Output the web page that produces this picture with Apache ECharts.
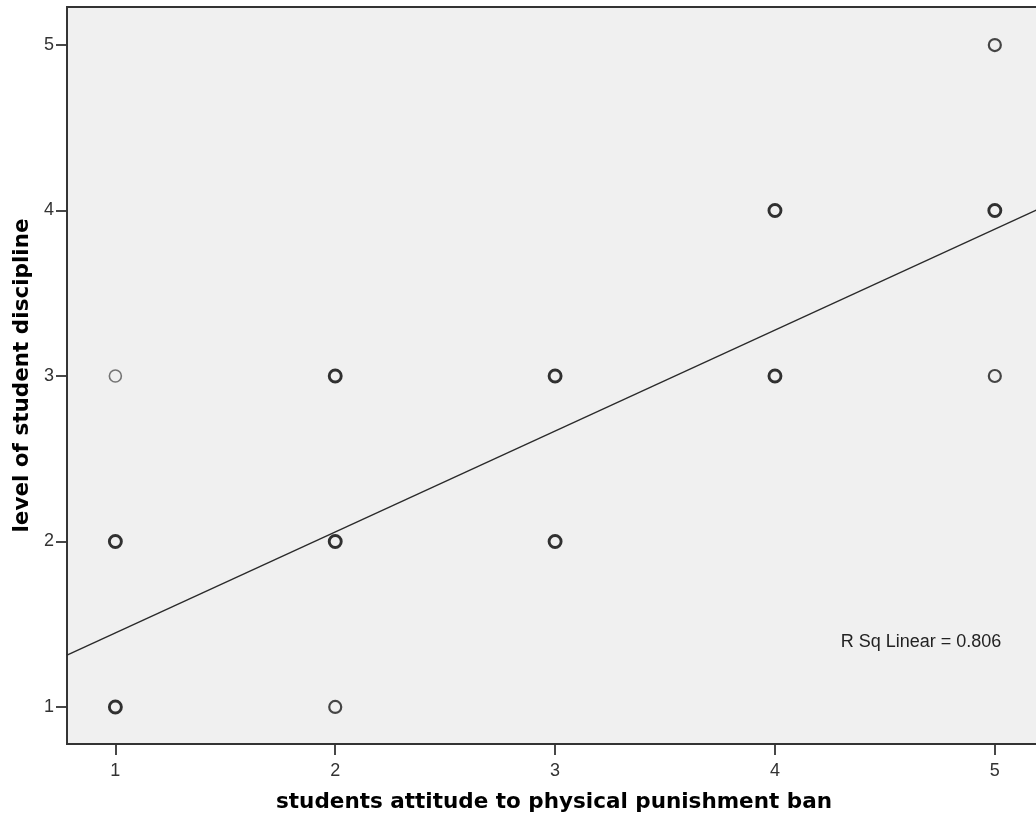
<!DOCTYPE html>
<html>
<head>
<meta charset="utf-8">
<script src="https://cdn.jsdelivr.net/npm/echarts@6/dist/echarts.min.js"></script>
<style>html,body{margin:0;padding:0;background:#fff}#c{width:1036px;height:824px}</style>
</head>
<body>
<div id="c"></div>
<script>
// Observed cases (attitude, discipline), grouped by how dark the overlapping circles look
const manyX = [1, 1, 2, 2, 3, 3, 4, 4, 5];
const manyY = [1, 2, 2, 3, 2, 3, 3, 4, 4];
const fewX = [2, 5, 5];
const fewY = [1, 3, 5];
const oneX = [1];
const oneY = [3];
// Fit line (R Sq Linear = 0.806)
const fitX = [0.78, 5.21];
const fitY = [1.313, 4.015];
const tickValues = [1, 2, 3, 4, 5];
const rSqLabel = 'R Sq Linear = 0.806';

const zip = (a, b) => a.map((v, i) => [v, b[i]]);
const chart = echarts.init(document.getElementById('c'), null, {renderer: 'canvas'});
const axisCommon = {
  type: 'value',
  axisLine: {show: true, lineStyle: {color: '#333', width: 1.8}},
  axisTick: {show: true, inside: false, length: 11, customValues: tickValues, lineStyle: {color: '#333', width: 1.8}},
  axisLabel: {customValues: tickValues, color: '#333', fontFamily: 'Liberation Sans', fontSize: 18},
  splitLine: {show: false},
  nameLocation: 'middle',
  nameTextStyle: {fontFamily: 'DejaVu Sans', fontWeight: 'bold', fontSize: 21.5, color: '#000'}
};
const scatterStyle = (w, c) => ({color: 'rgba(0,0,0,0)', borderColor: c, borderWidth: w});
chart.setOption({
  animation: false,
  backgroundColor: '#ffffff',
  grid: {left: 67, top: 7, width: 974, height: 737, outerBoundsMode: 'none', containLabel: false,
         show: true, backgroundColor: '#f0f0f0', borderColor: '#333', borderWidth: 1.8},
  xAxis: Object.assign({}, axisCommon, {
    min: 0.78, max: 5.21,
    name: 'students attitude to physical punishment ban',
    nameGap: 47,
    axisLabel: Object.assign({}, axisCommon.axisLabel, {margin: 18})
  }),
  yAxis: Object.assign({}, axisCommon, {
    min: 0.776, max: 5.23,
    name: 'level of student discipline',
    nameGap: 34,
    axisLabel: Object.assign({}, axisCommon.axisLabel, {margin: 13})
  }),
  series: [
    {
      type: 'line', data: zip(fitX, fitY), showSymbol: false, symbol: 'none',
      lineStyle: {color: '#2a2a2a', width: 1.4}, clip: true, silent: true, z: 2,
      markPoint: {
        symbol: 'rect', symbolSize: 0,
        data: [{coord: [4.664, 1.392], value: rSqLabel}],
        label: {show: true, formatter: rSqLabel, color: '#222', fontFamily: 'Liberation Sans', fontSize: 18, position: 'inside'}
      }
    },
    {type: 'scatter', data: zip(manyX, manyY), symbol: 'circle', symbolSize: 12, z: 3, itemStyle: scatterStyle(2.9, '#000')},
    {type: 'scatter', data: zip(fewX, fewY), symbol: 'circle', symbolSize: 12, z: 3, itemStyle: scatterStyle(2.2, '#1a1a1a')},
    {type: 'scatter', data: zip(oneX, oneY), symbol: 'circle', symbolSize: 12, z: 3, itemStyle: scatterStyle(1.6, '#555')}
  ]
});
</script>
</body>
</html>
